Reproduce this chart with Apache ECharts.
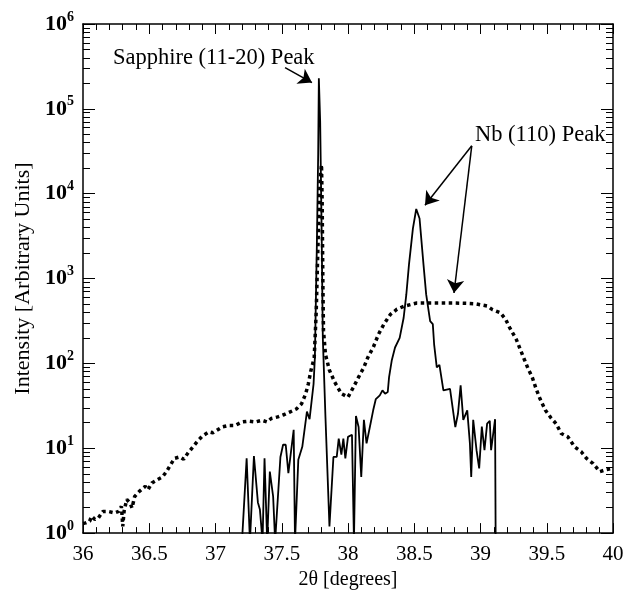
<!DOCTYPE html>
<html>
<head>
<meta charset="utf-8">
<script src="https://cdn.jsdelivr.net/npm/echarts@6/dist/echarts.min.js"></script>
<style>
  html, body { margin: 0; padding: 0; background: #fff; }
  #chart { width: 634px; height: 595px; }
</style>
</head>
<body>
<div id="chart"></div>
<script>
// Nb film scan (solid line)
var filmAngle = [37.2, 37.235, 37.26, 37.29, 37.32, 37.335, 37.355, 37.37, 37.39, 37.41, 37.435, 37.45,
    37.49, 37.51, 37.53, 37.55, 37.59, 37.6, 37.625, 37.655, 37.69, 37.71, 37.74, 37.75,
    37.765, 37.775, 37.78, 37.79, 37.8, 37.81, 37.83, 37.86, 37.89, 37.915, 37.93, 37.95,
    37.965, 37.98, 38.0, 38.03, 38.045, 38.06, 38.08, 38.1, 38.12, 38.14, 38.165, 38.19,
    38.21, 38.24, 38.26, 38.28, 38.3, 38.31, 38.33, 38.355, 38.39, 38.42, 38.44, 38.46,
    38.49, 38.515, 38.54, 38.57, 38.59, 38.62, 38.64, 38.65, 38.67, 38.69, 38.72, 38.77,
    38.81, 38.83, 38.85, 38.87, 38.9, 38.92, 38.93, 38.945, 38.97, 38.99, 39.01, 39.03,
    39.05, 39.07, 39.08, 39.11, 39.115];
var filmCounts = [0.8, 7.6, 0.8, 8.1, 2.3, 1.9, 0.8, 7.6, 0.8, 5.3, 2.7, 0.8,
    7.9, 11, 11, 5.1, 16.5, 0.8, 7.3, 10.4, 27, 22, 57, 117,
    2500, 30000, 230000, 70000, 5000, 200, 23, 1.2, 7.9, 7.9, 13, 8.4,
    13, 7.6, 13.6, 14.4, 0.8, 24, 17.8, 4.6, 21.6, 11.4, 17.8, 28,
    38, 42, 48, 44, 46, 69, 108, 154, 200, 345, 645, 1450,
    3900, 6600, 5100, 1450, 650, 315, 290, 168, 90, 96, 48, 50,
    17.8, 25.5, 55, 21.6, 28, 11.4, 4.6, 21.6, 9.5, 5.8, 18, 9.5,
    19.5, 21, 9.5, 22, 0.5];

// substrate reference scan (dotted line)
var refAngle = [36.0, 36.02, 36.05, 36.065, 36.09, 36.115, 36.15, 36.19, 36.24, 36.27, 36.29, 36.3,
    36.31, 36.33, 36.355, 36.37, 36.39, 36.425, 36.47, 36.49, 36.52, 36.56, 36.6, 36.63,
    36.66, 36.69, 36.73, 36.76, 36.79, 36.83, 36.86, 36.9, 36.95, 36.98, 37.02, 37.05,
    37.1, 37.15, 37.2, 37.25, 37.3, 37.35, 37.39, 37.42, 37.47, 37.52, 37.56, 37.61,
    37.65, 37.68, 37.7, 37.72, 37.745, 37.76, 37.775, 37.79, 37.8, 37.805, 37.81, 37.815,
    37.83, 37.86, 37.9, 37.95, 38.0, 38.04, 38.08, 38.12, 38.15, 38.19, 38.23, 38.27,
    38.32, 38.37, 38.42, 38.52, 38.6, 38.7, 38.8, 38.9, 38.96, 39.05, 39.09, 39.15,
    39.19, 39.22, 39.27, 39.3, 39.33, 39.36, 39.39, 39.42, 39.45, 39.49, 39.53, 39.57,
    39.61, 39.66, 39.71, 39.76, 39.8, 39.85, 39.9, 39.95, 40.0];
var refCounts = [1.3, 1.32, 1.38, 1.58, 1.45, 1.5, 1.8, 1.8, 1.73, 1.8, 2.07, 1.2,
    1.8, 2.5, 2.26, 1.98, 2.7, 3.1, 3.55, 3.24, 3.9, 4.25, 4.6, 5.3,
    6.35, 7.6, 7.9, 7.4, 8.7, 10.4, 11.9, 13.9, 15.6, 15.2, 16.6, 17.8,
    18.6, 18.6, 20.4, 20.9, 20.4, 21.4, 20.4, 22.4, 23.4, 25, 26.7, 29,
    33.5, 43.6, 57, 82, 117, 400, 3000, 15000, 22000, 8000, 1000, 245,
    127, 83, 60, 44, 40, 52, 69, 90, 118, 154, 220, 288,
    378, 435, 470, 515, 515, 515, 515, 510, 505, 475, 430, 395,
    330, 264, 192, 146, 112, 86, 69, 50, 38, 28, 23, 19.5,
    14.9, 13.6, 10.4, 9.1, 7.6, 6.6, 5.3, 5.6, 5.8];

// annotation arrows [tail, head] in data units
var sapphireArrow = [[37.525, 3.06e5], [37.728, 2.04e5]];
var nbArrowA = [[38.934, 36700], [38.581, 7300]];
var nbArrowB = [[38.934, 36700], [38.80, 676]];

var xMin = 36, xMax = 40;
var gridLeft = 83, gridRight = 21, chartWidth = 634;

function pairs(xs, ys) {
    var out = [];
    for (var i = 0; i < xs.length; i++) out.push([xs[i], ys[i]]);
    return out;
}

// minor ticks for the log axis (2..9 in every decade), as short segments
// on both frame sides; length is 7px expressed in x data units
var minorTickValues = [];
for (var d = 0; d < 6; d++) {
    for (var k = 2; k <= 9; k++) minorTickValues.push(k * Math.pow(10, d));
}
var tickDx = 7 * (xMax - xMin) / (chartWidth - gridLeft - gridRight);
var minorTickLines = [];
minorTickValues.forEach(function (v) {
    minorTickLines.push([{ coord: [xMin, v] }, { coord: [xMin + tickDx, v] }]);
    minorTickLines.push([{ coord: [xMax - tickDx, v] }, { coord: [xMax, v] }]);
});

var serif = '"Liberation Serif", "Times New Roman", serif';
var black = '#000';

var myChart = echarts.init(document.getElementById('chart'));
var option = {
    animation: false,
    backgroundColor: '#fff',
    grid: { left: gridLeft, right: gridRight, top: 24, bottom: 58 },
    xAxis: [{
        type: 'value', min: xMin, max: xMax, interval: 0.5,
        name: '2\u03b8 [degrees]', nameLocation: 'middle', nameGap: 28,
        nameTextStyle: { fontFamily: serif, fontSize: 20, color: black },
        axisLine: { lineStyle: { color: black, width: 1.5 } },
        axisTick: { inside: true, length: 10, lineStyle: { color: black } },
        minorTick: { show: true, splitNumber: 5, length: 6, lineStyle: { color: black } },
        axisLabel: { fontFamily: serif, fontSize: 21, color: black, margin: 11 },
        splitLine: { show: false }
    }, {
        type: 'value', min: xMin, max: xMax, interval: 0.5, position: 'top',
        axisLine: { lineStyle: { color: black, width: 1.5 } },
        axisTick: { inside: true, length: 10, lineStyle: { color: black } },
        minorTick: { show: true, splitNumber: 5, length: 6, lineStyle: { color: black } },
        axisLabel: { show: false },
        splitLine: { show: false }
    }],
    yAxis: [{
        type: 'log', logBase: 10, min: 1, max: 1e6,
        name: 'Intensity [Arbitrary Units]', nameLocation: 'middle', nameGap: 49,
        nameTextStyle: { fontFamily: serif, fontSize: 22, color: black },
        axisLine: { lineStyle: { color: black, width: 1.5 } },
        axisTick: { inside: true, length: 12, lineStyle: { color: black } },
        axisLabel: {
            margin: 9,
            formatter: function (v) {
                return '{b|10}{s|' + Math.round(Math.log10(v)) + '}';
            },
            rich: {
                b: { fontFamily: serif, fontSize: 22, fontWeight: 'bold', color: black },
                s: { fontFamily: serif, fontSize: 14, fontWeight: 'bold', color: black, padding: [0, 0, 14, 0] }
            }
        },
        splitLine: { show: false }
    }, {
        type: 'log', logBase: 10, min: 1, max: 1e6, position: 'right',
        axisLine: { lineStyle: { color: black, width: 1.5 } },
        axisTick: { inside: true, length: 12, lineStyle: { color: black } },
        axisLabel: { show: false },
        splitLine: { show: false }
    }],
    graphic: [{
        type: 'text', left: 113, top: 47,
        style: { text: 'Sapphire (11-20) Peak', font: '22.5px ' + serif, fill: black }
    }, {
        type: 'text', left: 475, top: 124,
        style: { text: 'Nb (110) Peak', font: '22.5px ' + serif, fill: black }
    }],
    series: [{
        name: 'reference', type: 'line', xAxisIndex: 0, yAxisIndex: 0,
        data: pairs(refAngle, refCounts), showSymbol: false, clip: true,
        lineStyle: { color: black, width: 3.5, type: [3.5, 3.5], cap: 'butt' },
        silent: true,
        markLine: {
            silent: true, animation: false,
            symbol: ['none', 'none'],
            label: { show: false },
            emphasis: { disabled: true },
            lineStyle: { color: black, width: 1, type: 'solid' },
            data: minorTickLines
        }
    }, {
        name: 'film', type: 'line', xAxisIndex: 0, yAxisIndex: 0,
        data: pairs(filmAngle, filmCounts), showSymbol: false, clip: true,
        lineStyle: { color: black, width: 1.8 },
        silent: true,
        markLine: {
            silent: true, animation: false,
            symbol: ['none', 'arrow'], symbolSize: 13,
            label: { show: false },
            emphasis: { disabled: true },
            lineStyle: { color: black, width: 1.5, type: 'solid' },
            data: [
                [{ coord: sapphireArrow[0] }, { coord: sapphireArrow[1] }],
                [{ coord: nbArrowA[0] }, { coord: nbArrowA[1] }],
                [{ coord: nbArrowB[0] }, { coord: nbArrowB[1] }]
            ]
        }
    }]
};
myChart.setOption(option);
</script>
</body>
</html>
